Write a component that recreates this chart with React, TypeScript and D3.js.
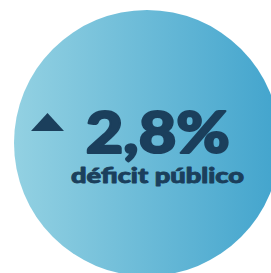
import React, { useEffect, useRef } from "react";
import { select, scaleLinear } from "d3";

// values shown in the badge
const value = [2.8];
const valueLabel = ["2,8%"];
const caption = ["déficit público"];
const trend = ["up"];
const gradientStops = ["#93d1e2", "#42a4cd"];

function App() {
  const ref = useRef<SVGSVGElement>(null);

  const width = 271,
    height = 273;

  useEffect(() => {
    const svg = select(ref.current);
    svg.selectAll("*").remove();

    const defs = svg.append("defs");
    const grad = defs
      .append("linearGradient")
      .attr("id", "bg")
      .attr("x1", "0%")
      .attr("x2", "100%")
      .attr("y1", "0%")
      .attr("y2", "0%");
    grad
      .selectAll("stop")
      .data(gradientStops)
      .join("stop")
      .attr("offset", (d, i) => i * 100 + "%")
      .attr("stop-color", (d) => d);

    // circle geometry
    const r = 133;
    const cx = 147,
      cy = 143;

    svg
      .append("circle")
      .attr("cx", cx)
      .attr("cy", cy)
      .attr("r", r)
      .attr("fill", "url(#bg)");

    const navy = "#1b3f5c";
    const x = scaleLinear().domain([0, 1]).range([cx - r, cx + r]);

    // triangle marker
    if (trend[0] === "up") {
      const tx = 47.5,
        top = 113,
        base = 131,
        half = 16.5;
      svg
        .append("path")
        .attr("d", `M${tx - half},${base}L${tx},${top}L${tx + half},${base}Z`)
        .attr("fill", navy);
    }

    svg
      .append("text")
      .attr("x", x(0.27))
      .attr("y", 153)
      .attr("font-family", "Lato, 'DejaVu Sans', sans-serif")
      .attr("font-weight", 900)
      .attr("font-size", 58)
      .attr("textLength", 144)
      .attr("lengthAdjust", "spacingAndGlyphs")
      .attr("fill", navy)
      .attr("stroke", navy)
      .attr("stroke-width", 2.2)
      .attr("stroke-linejoin", "round")
      .attr("data-value", value[0])
      .text(valueLabel[0]);

    svg
      .append("text")
      .attr("x", 71)
      .attr("y", 183)
      .attr("font-family", "Lato, 'DejaVu Sans', sans-serif")
      .attr("font-weight", 900)
      .attr("font-size", 21)
      .attr("textLength", 173)
      .attr("lengthAdjust", "spacingAndGlyphs")
      .attr("fill", navy)
      .attr("stroke", navy)
      .attr("stroke-width", 0.9)
      .attr("stroke-linejoin", "round")
      .text(caption[0]);
  }, []);

  return (
    <svg
      ref={ref}
      width={width}
      height={height}
      style={{ position: "absolute", left: 0, top: 0, display: "block" }}
    />
  );
}

export default App;
